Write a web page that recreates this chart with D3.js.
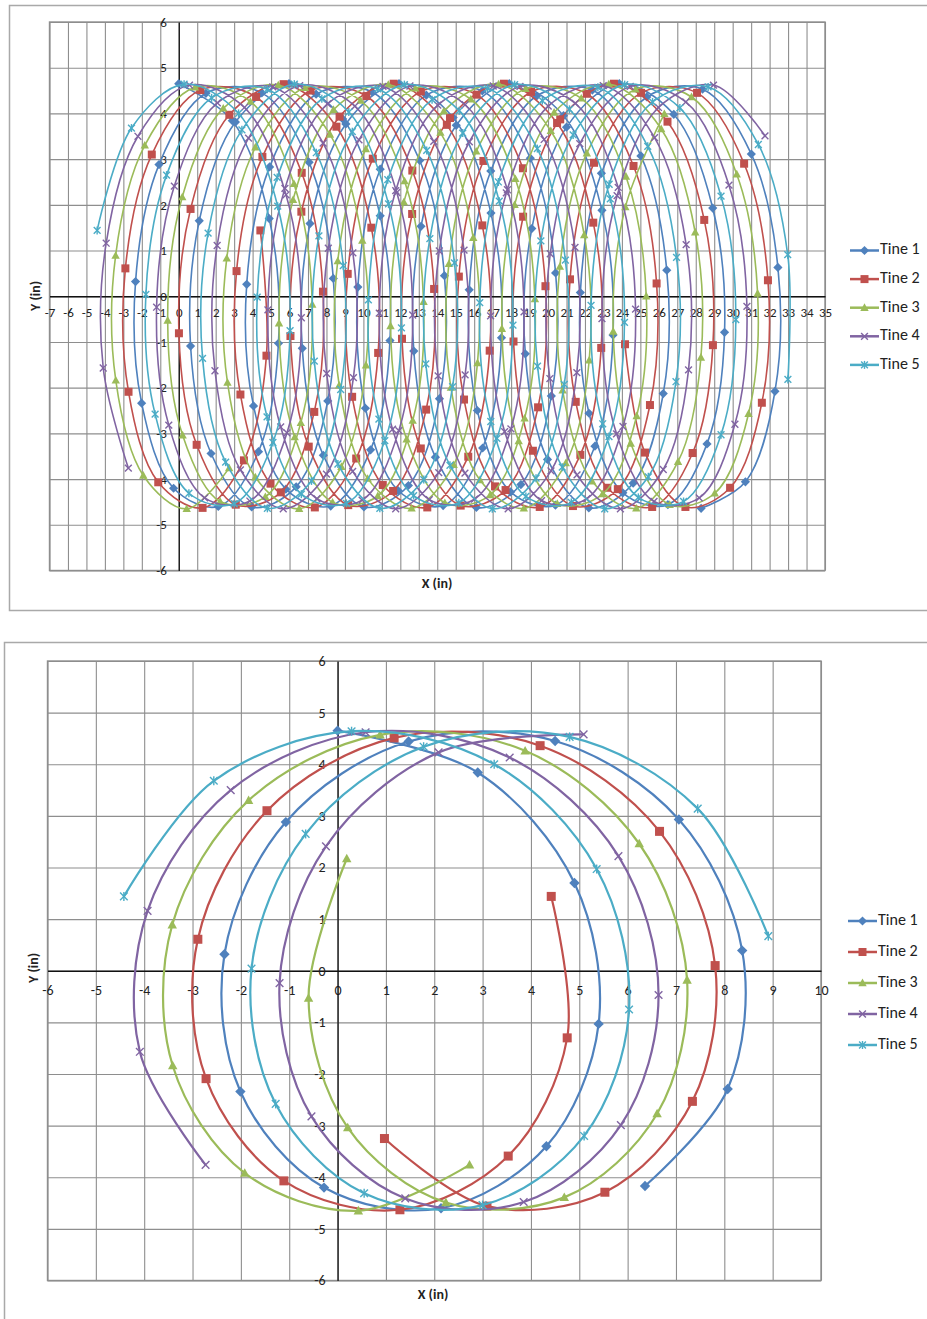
<!DOCTYPE html>
<html>
<head>
  <meta charset="utf-8">
  <script src="https://d3js.org/d3.v7.min.js"></script>
  <style>
    body { margin: 0; background: #fff; }
    svg text { font-family: Carlito, Lato, "Open Sans", sans-serif; fill: #222; }
  </style>
</head>
<body>
<script>
// tine paths (x, y in inches), 101 samples each
const tine1X = [
  0.00, 2.90, 4.90, 5.40, 4.32, 2.14, -0.28, -2.01, -2.34, -1.07, 1.47, 4.50, 7.06, 8.37, 8.07, 6.36, 3.95, 1.75, 0.64, 1.11, 3.07,
  5.97, 8.88, 10.91, 11.44, 10.39, 8.23, 5.80, 4.05, 3.68, 4.92, 7.44, 10.47, 13.05, 14.39, 14.12, 12.44, 10.03, 7.83, 6.69, 7.11, 9.05,
  11.93, 14.86, 16.91, 17.48, 16.46, 14.32, 11.88, 10.11, 9.70, 10.91, 13.41, 16.44, 19.04, 20.41, 20.18, 18.53, 16.12, 13.90, 12.73, 13.12, 15.03,
  17.90, 20.84, 22.92, 23.52, 22.54, 20.40, 17.97, 16.17, 15.73, 16.90, 19.38, 22.40, 25.03, 26.43, 26.24, 24.61, 22.21, 19.97, 18.77, 19.12, 21.00,
  23.86, 26.81, 28.92, 29.56, 28.61, 26.49, 24.05, 22.22, 21.75, 22.89, 25.35, 28.37, 31.01, 32.45, 32.29, 30.69, 28.29
];
const tine1Y = [
  4.65, 3.84, 1.70, -1.03, -3.40, -4.60, -4.20, -2.34, 0.32, 2.88, 4.44, 4.45, 2.93, 0.39, -2.29, -4.17, -4.61, -3.44, -1.09, 1.65, 3.81,
  4.65, 3.88, 1.76, -0.97, -3.36, -4.59, -4.22, -2.40, 0.26, 2.83, 4.42, 4.47, 2.97, 0.45, -2.24, -4.14, -4.61, -3.48, -1.14, 1.59, 3.77,
  4.65, 3.91, 1.82, -0.91, -3.32, -4.58, -4.25, -2.45, 0.20, 2.78, 4.40, 4.49, 3.02, 0.51, -2.18, -4.12, -4.62, -3.52, -1.20, 1.53, 3.74,
  4.65, 3.95, 1.88, -0.85, -3.28, -4.57, -4.28, -2.50, 0.14, 2.74, 4.38, 4.51, 3.07, 0.57, -2.13, -4.09, -4.63, -3.57, -1.26, 1.48, 3.70,
  4.65, 3.98, 1.93, -0.79, -3.23, -4.56, -4.30, -2.56, 0.08, 2.69, 4.36, 4.53, 3.11, 0.63, -2.08, -4.06, -4.64
];
const tine2X = [
  4.42, 4.75, 3.53, 1.29, -1.11, -2.72, -2.89, -1.46, 1.17, 4.19, 6.66, 7.81, 7.34, 5.53, 3.09, 0.97, 0.01, 0.64, 2.74, 5.68, 8.54,
  10.43, 10.80, 9.61, 7.37, 4.97, 3.34, 3.13, 4.53, 7.14, 10.16, 12.65, 13.83, 13.40, 11.61, 9.18, 7.04, 6.05, 6.64, 8.71, 11.64, 14.52,
  16.44, 16.84, 15.68, 13.46, 11.05, 9.39, 9.15, 10.51, 13.11, 16.13, 18.64, 19.86, 19.46, 17.70, 15.27, 13.11, 12.09, 12.64, 14.69, 17.61, 20.49,
  22.45, 22.88, 21.75, 19.55, 17.13, 15.45, 15.17, 16.50, 19.08, 22.10, 24.63, 25.88, 25.52, 23.78, 21.35, 19.18, 18.13, 18.65, 20.66, 23.57, 26.47,
  28.46, 28.93, 27.83, 25.64, 23.21, 21.50, 21.19, 22.49, 25.04, 28.07, 30.62, 31.91, 31.58, 29.86, 27.44, 25.25, 24.17
];
const tine2Y = [
  1.44, -1.30, -3.59, -4.63, -4.07, -2.09, 0.61, 3.10, 4.51, 4.36, 2.70, 0.10, -2.53, -4.29, -4.56, -3.25, -0.81, 1.91, 3.97, 4.64, 3.71,
  1.50, -1.24, -3.55, -4.62, -4.10, -2.15, 0.55, 3.05, 4.50, 4.38, 2.75, 0.16, -2.48, -4.26, -4.57, -3.29, -0.87, 1.85, 3.93, 4.65, 3.75,
  1.55, -1.19, -3.51, -4.62, -4.13, -2.20, 0.49, 3.01, 4.48, 4.41, 2.80, 0.22, -2.43, -4.24, -4.58, -3.33, -0.93, 1.80, 3.90, 4.65, 3.79,
  1.61, -1.13, -3.47, -4.61, -4.16, -2.26, 0.43, 2.96, 4.47, 4.43, 2.85, 0.28, -2.38, -4.22, -4.59, -3.38, -0.99, 1.74, 3.87, 4.65, 3.82,
  1.67, -1.07, -3.43, -4.61, -4.19, -2.31, 0.37, 2.92, 4.45, 4.45, 2.90, 0.35, -2.33, -4.19, -4.61, -3.42, -1.05
];
const tine3X = [
  2.73, 0.43, -1.92, -3.41, -3.42, -1.84, 0.88, 3.88, 6.24, 7.23, 6.61, 4.69, 2.24, 0.21, -0.60, 0.19, 2.41, 5.39, 8.19, 9.94, 10.14,
  8.81, 6.52, 4.15, 2.64, 2.60, 4.15, 6.84, 9.85, 12.23, 13.26, 12.67, 10.78, 8.33, 6.28, 5.43, 6.19, 8.38, 11.35, 14.17, 15.95, 16.18,
  14.89, 12.61, 10.23, 8.69, 8.61, 10.13, 12.81, 15.82, 18.23, 19.29, 18.73, 16.86, 14.41, 12.34, 11.47, 12.19, 14.36, 17.32, 20.15, 21.96, 22.23,
  20.96, 18.69, 16.31, 14.74, 14.63, 16.11, 18.78, 21.80, 24.22, 25.32, 24.80, 22.95, 20.50, 18.41, 17.50, 18.19, 20.33, 23.29, 26.13, 27.97, 28.28,
  27.04, 24.78, 22.39, 20.79, 20.64, 22.10, 24.74, 27.77, 30.22, 31.35, 30.86, 29.03, 26.59, 24.48, 23.53, 24.19, 26.30
];
const tine3Y = [
  -3.76, -4.65, -3.92, -1.84, 0.89, 3.30, 4.57, 4.26, 2.46, -0.18, -2.77, -4.39, -4.49, -3.04, -0.53, 2.17, 4.11, 4.62, 3.54, 1.22, -1.51,
  -3.73, -4.65, -3.96, -1.89, 0.83, 3.26, 4.56, 4.28, 2.52, -0.12, -2.72, -4.37, -4.51, -3.08, -0.59, 2.11, 4.08, 4.63, 3.58, 1.28, -1.46,
  -3.69, -4.64, -3.99, -1.95, 0.77, 3.22, 4.55, 4.31, 2.57, -0.06, -2.67, -4.35, -4.52, -3.13, -0.65, 2.06, 4.05, 4.64, 3.62, 1.34, -1.40,
  -3.65, -4.64, -4.02, -2.00, 0.71, 3.17, 4.54, 4.33, 2.62, 0.00, -2.62, -4.33, -4.54, -3.17, -0.71, 2.00, 4.02, 4.64, 3.66, 1.40, -1.34,
  -3.62, -4.64, -4.05, -2.06, 0.65, 3.13, 4.53, 4.36, 2.67, 0.06, -2.57, -4.31, -4.56, -3.22, -0.77, 1.95, 3.99
];
const tine4X = [
  -2.73, -4.09, -3.93, -2.21, 0.58, 3.56, 5.81, 6.64, 5.86, 3.85, 1.40, -0.54, -1.20, -0.24, 2.09, 5.09, 7.82, 9.43, 9.46, 8.00, 5.66,
  3.34, 1.96, 2.08, 3.78, 6.55, 9.54, 11.81, 12.67, 11.92, 9.93, 7.48, 5.52, 4.83, 5.75, 8.06, 11.06, 13.81, 15.45, 15.51, 14.08, 11.75,
  9.42, 8.01, 8.10, 9.76, 12.52, 15.51, 17.80, 18.70, 17.99, 16.02, 13.57, 11.58, 10.86, 11.75, 14.03, 17.03, 19.79, 21.46, 21.56, 20.16, 17.84,
  15.50, 14.05, 14.11, 15.74, 18.48, 21.48, 23.80, 24.74, 24.06, 22.10, 19.65, 17.65, 16.89, 17.74, 20.01, 22.99, 25.77, 27.48, 27.61, 26.24, 23.92,
  21.57, 20.10, 20.12, 21.72, 24.45, 27.46, 29.80, 30.77, 30.12, 28.19, 25.74, 23.71, 22.92, 23.74, 25.98, 28.96, 31.75
];
const tine4Y = [
  -3.76, -1.57, 1.16, 3.50, 4.62, 4.13, 2.22, -0.47, -2.99, -4.48, -4.41, -2.82, -0.24, 2.41, 4.23, 4.58, 3.35, 0.95, -1.78, -3.89, -4.65,
  -3.80, -1.63, 1.11, 3.46, 4.61, 4.16, 2.27, -0.41, -2.94, -4.46, -4.43, -2.86, -0.30, 2.36, 4.21, 4.59, 3.39, 1.01, -1.72, -3.86, -4.65,
  -3.83, -1.69, 1.05, 3.42, 4.60, 4.19, 2.33, -0.34, -2.90, -4.44, -4.45, -2.91, -0.37, 2.31, 4.18, 4.60, 3.43, 1.07, -1.67, -3.82, -4.65,
  -3.87, -1.74, 0.99, 3.38, 4.59, 4.22, 2.38, -0.28, -2.85, -4.43, -4.47, -2.96, -0.43, 2.26, 4.16, 4.61, 3.47, 1.13, -1.61, -3.79, -4.65,
  -3.91, -1.80, 0.93, 3.34, 4.59, 4.25, 2.43, -0.22, -2.80, -4.41, -4.49, -3.01, -0.49, 2.20, 4.13, 4.62, 3.51
];
const tine5X = [
  -4.42, -2.56, 0.29, 3.24, 5.36, 6.03, 5.10, 3.00, 0.55, -1.28, -1.78, -0.66, 1.78, 4.80, 7.45, 8.91, 8.77, 7.19, 4.80, 2.54, 1.29,
  1.59, 3.42, 6.26, 9.21, 11.36, 12.06, 11.16, 9.08, 6.64, 4.78, 4.25, 5.33, 7.75, 10.77, 13.43, 14.93, 14.83, 13.27, 10.89, 8.62, 7.34,
  7.59, 9.40, 12.22, 15.19, 17.36, 18.10, 17.23, 15.17, 12.72, 10.84, 10.27, 11.32, 13.72, 16.73, 19.42, 20.94, 20.88, 19.35, 16.98, 14.69, 13.38,
  13.60, 15.38, 18.19, 21.16, 23.37, 24.14, 23.30, 21.26, 18.80, 16.90, 16.30, 17.31, 19.69, 22.70, 25.40, 26.96, 26.93, 25.43, 23.07, 20.77, 19.43,
  19.61, 21.36, 24.15, 27.14, 29.37, 30.17, 29.37, 27.34, 24.89, 22.96, 22.33, 23.31, 25.66, 28.67, 31.39, 32.98, 32.99
];
const tine5Y = [
  1.44, 3.68, 4.64, 4.00, 1.97, -0.75, -3.20, -4.54, -4.31, -2.58, 0.04, 2.65, 4.34, 4.53, 3.14, 0.67, -2.04, -4.04, -4.64, -3.63, -1.36,
  1.38, 3.64, 4.64, 4.03, 2.02, -0.69, -3.16, -4.53, -4.33, -2.64, -0.02, 2.60, 4.32, 4.54, 3.19, 0.73, -1.98, -4.01, -4.64, -3.67, -1.42,
  1.32, 3.60, 4.63, 4.06, 2.08, -0.63, -3.11, -4.52, -4.36, -2.69, -0.08, 2.55, 4.30, 4.55, 3.23, 0.79, -1.93, -3.98, -4.65, -3.70, -1.48,
  1.26, 3.57, 4.63, 4.09, 2.13, -0.57, -3.07, -4.51, -4.38, -2.74, -0.14, 2.50, 4.28, 4.57, 3.28, 0.85, -1.87, -3.95, -4.65, -3.74, -1.53,
  1.21, 3.53, 4.63, 4.12, 2.19, -0.51, -3.03, -4.49, -4.40, -2.79, -0.20, 2.45, 4.25, 4.58, 3.32, 0.91, -1.82
];

const tineNames = ["Tine 1", "Tine 2", "Tine 3", "Tine 4", "Tine 5"];
const tineXs = [tine1X, tine2X, tine3X, tine4X, tine5X];
const tineYs = [tine1Y, tine2Y, tine3Y, tine4Y, tine5Y];
const tineColors = ["#4F81BD", "#C0504D", "#9BBB59", "#8064A2", "#4BACC6"];
const tineMarkers = ["diamond", "square", "triangle", "cross", "star"];

// the lower chart only shows the first revolution
const firstTurnCount = 16;

const yTicks = d3.range(-6, 7);

var svg = d3.select("body").append("svg")
  .attr("width", 927)
  .attr("height", 1319);

/*
  chart frames
*/
svg.append("rect")
  .attr("x", 9.5).attr("y", 5.5).attr("width", 940).attr("height", 605)
  .attr("fill", "none").attr("stroke", "#a9a9a9").attr("stroke-width", 1.5);
svg.append("rect")
  .attr("x", 4.5).attr("y", 642.5).attr("width", 940).attr("height", 700)
  .attr("fill", "none").attr("stroke", "#a9a9a9").attr("stroke-width", 1.5);

function drawMarker(sel, type, r, color) {
  if (type === "diamond") {
    sel.append("path")
      .attr("d", "M0," + (-r * 1.15) + "L" + (r * 1.15) + ",0L0," + (r * 1.15) + "L" + (-r * 1.15) + ",0Z")
      .attr("fill", color);
  } else if (type === "square") {
    sel.append("rect")
      .attr("x", -r).attr("y", -r).attr("width", 2 * r).attr("height", 2 * r)
      .attr("fill", color);
  } else if (type === "triangle") {
    sel.append("path")
      .attr("d", "M0," + (-r * 1.1) + "L" + (r * 1.05) + "," + (r * 0.8) + "L" + (-r * 1.05) + "," + (r * 0.8) + "Z")
      .attr("fill", color);
  } else {
    var k = r * 0.85;
    var segs = [[-k, -k, k, k], [-k, k, k, -k]];
    if (type === "star") segs.push([0, -r, 0, r]);
    segs.forEach(function (s) {
      sel.append("line")
        .attr("x1", s[0]).attr("y1", s[1]).attr("x2", s[2]).attr("y2", s[3])
        .attr("stroke", color).attr("stroke-width", 1.4);
    });
  }
}

function drawChart(o) {
  var g = svg.append("g");
  var x = d3.scaleLinear().domain(o.xDomain).range([o.left, o.right]);
  var y = d3.scaleLinear().domain([-6, 6]).range([o.bottom, o.top]);
  var xTicks = d3.range(o.xDomain[0], o.xDomain[1] + 1);

  /* gridlines */
  g.append("g")
    .attr("transform", "translate(0," + o.bottom + ")")
    .call(d3.axisBottom(x).tickValues(xTicks).tickSize(-(o.bottom - o.top)).tickFormat(""))
    .call(function (s) { s.select(".domain").remove(); })
    .selectAll("line").attr("stroke", "#8e8e8e").attr("stroke-width", 1.1);
  g.append("g")
    .attr("transform", "translate(" + o.left + ",0)")
    .call(d3.axisLeft(y).tickValues(yTicks).tickSize(-(o.right - o.left)).tickFormat(""))
    .call(function (s) { s.select(".domain").remove(); })
    .selectAll("line").attr("stroke", "#8e8e8e").attr("stroke-width", 1.1);
  g.append("rect")
    .attr("x", o.left).attr("y", o.top)
    .attr("width", o.right - o.left).attr("height", o.bottom - o.top)
    .attr("fill", "none").attr("stroke", "#8e8e8e").attr("stroke-width", 1.4);

  /* axes crossing at zero */
  var xAxis = g.append("g")
    .attr("transform", "translate(0," + y(0) + ")")
    .call(d3.axisBottom(x).tickValues(xTicks).tickSize(0).tickPadding(o.xPad)
      .tickFormat(function (d) { return String(d); }));
  var yAxis = g.append("g")
    .attr("transform", "translate(" + x(0) + ",0)")
    .call(d3.axisLeft(y).tickValues(yTicks).tickSize(0).tickPadding(o.yPad)
      .tickFormat(function (d) { return String(d); }));
  [xAxis, yAxis].forEach(function (a) {
    a.select(".domain").attr("stroke", "#111").attr("stroke-width", 1.3);
    a.selectAll("text")
      .style("font-family", "Carlito, Lato, sans-serif")
      .style("font-size", o.tickFont + "px")
      .attr("fill", "#2a2a2a");
  });

  /* axis titles */
  g.append("text")
    .attr("x", o.xTitle[0]).attr("y", o.xTitle[1])
    .attr("text-anchor", "middle").attr("dominant-baseline", "middle")
    .style("font-size", "14px").style("font-weight", "bold")
    .text("X (in)");
  g.append("text")
    .attr("transform", "translate(" + o.yTitle[0] + "," + o.yTitle[1] + ") rotate(-90)")
    .attr("text-anchor", "middle").attr("dominant-baseline", "middle")
    .style("font-size", "14px").style("font-weight", "bold")
    .text("Y (in)");

  /* series */
  var line = d3.line()
    .x(function (d) { return x(d[0]); })
    .y(function (d) { return y(d[1]); })
    .curve(d3.curveCatmullRom);

  tineNames.forEach(function (name, i) {
    var pts = d3.zip(tineXs[i], tineYs[i]).slice(0, o.count);
    g.append("path")
      .datum(pts)
      .attr("d", line)
      .attr("fill", "none")
      .attr("stroke", tineColors[i])
      .attr("stroke-width", o.lineWidth);
    g.append("g").selectAll("g")
      .data(pts)
      .join("g")
        .attr("transform", function (d) { return "translate(" + x(d[0]) + "," + y(d[1]) + ")"; })
        .each(function () { drawMarker(d3.select(this), tineMarkers[i], o.markerR, tineColors[i]); });
  });

  /* legend */
  var leg = g.append("g");
  tineNames.forEach(function (name, i) {
    var cy = o.legendY + i * o.legendStep;
    leg.append("line")
      .attr("x1", o.legendX).attr("x2", o.legendX + 29)
      .attr("y1", cy).attr("y2", cy)
      .attr("stroke", tineColors[i]).attr("stroke-width", 2.5);
    drawMarker(leg.append("g").attr("transform", "translate(" + (o.legendX + 14.5) + "," + cy + ")"),
      tineMarkers[i], 4, tineColors[i]);
    leg.append("text")
      .attr("x", o.legendX + 30).attr("y", cy)
      .attr("dominant-baseline", "middle")
      .style("font-size", "16px")
      .text(name);
  });
}

drawChart({
  xDomain: [-7, 35], left: 49.5, right: 825, top: 22, bottom: 570.5,
  count: tine1X.length, lineWidth: 1.6, markerR: 4,
  tickFont: 13, xPad: 12, yPad: 12,
  xTitle: [437, 585], yTitle: [37, 296],
  legendX: 850, legendY: 250.5, legendStep: 28.6
});

drawChart({
  xDomain: [-6, 10], left: 47.5, right: 821, top: 661, bottom: 1280.5,
  count: firstTurnCount, lineWidth: 2.2, markerR: 4.5,
  tickFont: 14, xPad: 14, yPad: 12,
  xTitle: [433, 1296], yTitle: [35, 968],
  legendX: 848, legendY: 921, legendStep: 31
});
</script>
</body>
</html>
